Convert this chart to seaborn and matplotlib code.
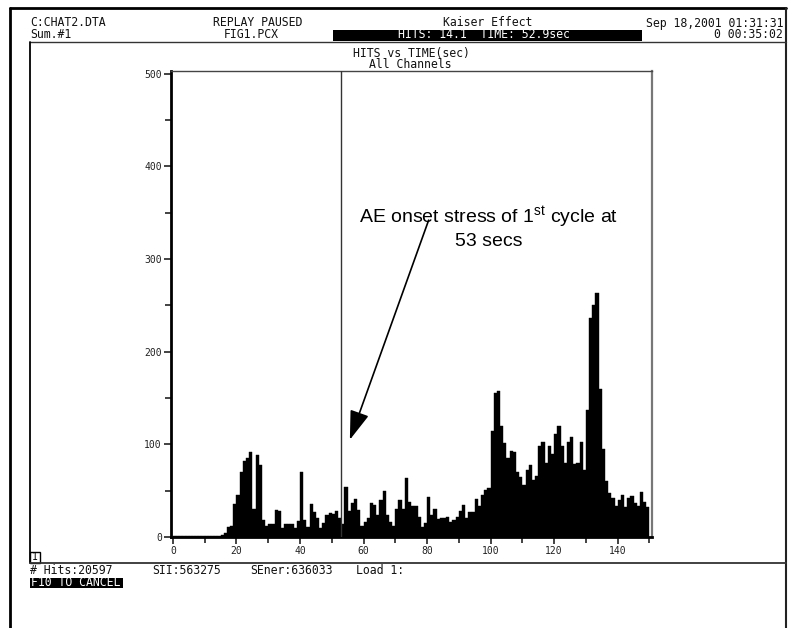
import numpy as np
import pandas as pd
import matplotlib
matplotlib.use("Agg")
import matplotlib.pyplot as plt
from matplotlib.ticker import MultipleLocator
from matplotlib.patches import Rectangle
import seaborn as sns

# ---------------- data ----------------
time_sec = list(range(150))
hits = [1] * 15 + [
    2, 4, 11, 12, 36, 45, 70, 82, 85, 92,          # 15-24
    30, 88, 78, 18, 12, 14, 14, 29, 28, 10,        # 25-34
    14, 14, 14, 10, 17, 70, 18, 11, 36, 27,        # 35-44
    20, 10, 15, 24, 26, 25, 28, 20, 14, 54,        # 45-54
    28, 37, 41, 29, 12, 16, 20, 37, 35, 24,        # 55-64
    40, 50, 24, 16, 12, 30, 40, 30, 64, 38,        # 65-74
    33, 33, 22, 11, 15, 43, 24, 30, 19, 21,        # 75-84
    20, 22, 16, 18, 22, 28, 35, 20, 27, 27,        # 85-94
    41, 34, 45, 51, 53, 114, 155, 158, 120, 102,   # 95-104
    85, 93, 92, 70, 65, 56, 72, 78, 62, 66,        # 105-114
    98, 103, 80, 98, 90, 111, 120, 98, 80, 103,    # 115-124
    108, 79, 80, 103, 72, 137, 236, 250, 263, 160, # 125-134
    95, 60, 47, 42, 33, 40, 45, 32, 42, 44,        # 135-144
    37, 34, 49, 38, 32,                            # 145-149
]
x_tick_labels = [0, 20, 40, 60, 80, 100, 120, 140]
y_tick_labels = [0, 100, 200, 300, 400, 500]
onset_time = 53

df = pd.DataFrame({"time": [t + 0.5 for t in time_sec], "hits": hits})

# ---------------- style ----------------
sns.set_theme(style="white")
plt.rcParams["font.family"] = ["DejaVu Sans Mono"]
plt.rcParams["mathtext.fontset"] = "custom"
plt.rcParams["mathtext.rm"] = "Liberation Sans"
plt.rcParams["mathtext.it"] = "Liberation Sans:italic"

W, H = 796, 628
fig = plt.figure(figsize=(W / 100, H / 100), dpi=100)
fig.patch.set_facecolor("white")

# overlay in pixel coordinates for the screen frame / status text
bg = fig.add_axes([0, 0, 1, 1], zorder=0)
bg.set_xlim(0, W)
bg.set_ylim(H, 0)
bg.axis("off")

mono = dict(family="DejaVu Sans Mono", fontsize=8.3, color="#111111")

# frame lines
bg.plot([10, 10], [8, H], color="black", lw=2)
bg.plot([10, 786], [8, 8], color="black", lw=2)
bg.plot([786, 786], [8, H], color="#222222", lw=1.5)
bg.plot([30, 786], [41.5, 41.5], color="#333333", lw=1)
bg.plot([30, 30], [41.5, 563], color="black", lw=1.3)
bg.plot([30, 786], [563, 563], color="#333333", lw=1.3)

# header text
bg.text(30, 23, "C:CHAT2.DTA", ha="left", va="center", **mono)
bg.text(30, 34.5, "Sum.#1", ha="left", va="center", **mono)
bg.text(213, 23, "REPLAY PAUSED", ha="left", va="center", **mono)
bg.text(224, 34.5, "FIG1.PCX", ha="left", va="center", **mono)
bg.text(443, 23, "Kaiser Effect", ha="left", va="center", **mono)
bg.add_patch(Rectangle((333, 29.5), 309, 11, facecolor="black", edgecolor="none"))
bg.text(398, 35, "HITS: 14.1  TIME: 52.9sec", ha="left", va="center",
        family="DejaVu Sans Mono", fontsize=8.3, color="white")
bg.text(783, 23, "Sep 18,2001 01:31:31", ha="right", va="center", **mono)
bg.text(783, 34.5, "0 00:35:02", ha="right", va="center", **mono)
bg.text(411, 53, "HITS vs TIME(sec)", ha="center", va="center", **mono)
bg.text(410, 64.5, "All Channels", ha="center", va="center", **mono)

# footer text
bg.add_patch(Rectangle((30, 552), 10, 11, facecolor="white", edgecolor="black", lw=1))
bg.text(35, 557.5, "1", ha="center", va="center", family="DejaVu Sans Mono",
        fontsize=7, color="black")
bg.text(30, 571, "# Hits:20597", ha="left", va="center", **mono)
bg.text(152, 571, "SII:563275", ha="left", va="center", **mono)
bg.text(250, 571, "SEner:636033", ha="left", va="center", **mono)
bg.text(356, 571, "Load 1:", ha="left", va="center", **mono)
bg.add_patch(Rectangle((30, 577.5), 93, 10, facecolor="black", edgecolor="none"))
bg.text(31, 582.5, "F10 TO CANCEL", ha="left", va="center",
        family="DejaVu Sans Mono", fontsize=8.3, color="white")

# ---------------- main chart ----------------
ax_l, ax_r, ax_t, ax_b = 171, 652, 71, 537
ax = fig.add_axes([ax_l / W, (H - ax_b) / H, (ax_r - ax_l) / W, (ax_b - ax_t) / H], zorder=2)
ax.set_facecolor("none")

sns.histplot(data=df, x="time", weights="hits", binwidth=1, binrange=(0, 150),
             color="black", alpha=1, edgecolor="black", linewidth=0.3, ax=ax)

ax.set_xlim(-0.6, 150.8)
ax.set_ylim(0, 503)
ax.set_xlabel("")
ax.set_ylabel("")

ax.axvline(onset_time, color="#333333", lw=1, zorder=3)

ax.set_xticks(x_tick_labels)
ax.set_xticklabels([str(v) for v in x_tick_labels])
ax.set_yticks(y_tick_labels)
ax.set_yticklabels([str(v) for v in y_tick_labels])
ax.xaxis.set_minor_locator(MultipleLocator(10))
ax.yaxis.set_minor_locator(MultipleLocator(50))
ax.tick_params(axis="both", which="both", direction="out", bottom=True, left=True,
               top=False, right=False, colors="#222222", labelsize=7,
               width=1.2)
ax.tick_params(axis="both", which="major", length=5, pad=1.5)
ax.tick_params(axis="both", which="minor", length=4)
for lab in ax.get_xticklabels() + ax.get_yticklabels():
    lab.set_family("DejaVu Sans Mono")

for side, lw, col in [("left", 2, "black"), ("bottom", 2, "black"),
                      ("top", 1, "#444444"), ("right", 1.6, "#777777")]:
    ax.spines[side].set_visible(True)
    ax.spines[side].set_linewidth(lw)
    ax.spines[side].set_color(col)

# annotation
ax.text(99.5, 339, r"AE onset stress of 1$^{\mathrm{st}}$ cycle at",
        ha="center", va="baseline", fontsize=14, family="Liberation Sans",
        color="black", zorder=5)
ax.text(99.5, 314, "53 secs", ha="center", va="baseline", fontsize=14,
        family="Liberation Sans", color="black", zorder=5)
ax.annotate("", xy=(55.7, 105), xytext=(80.5, 342),
            arrowprops=dict(arrowstyle="-|>,head_length=0.9,head_width=0.3",
                            mutation_scale=20, color="black", lw=1.2,
                            shrinkA=0, shrinkB=0), zorder=5)

fig.savefig("out.png", dpi=100, facecolor="white")
